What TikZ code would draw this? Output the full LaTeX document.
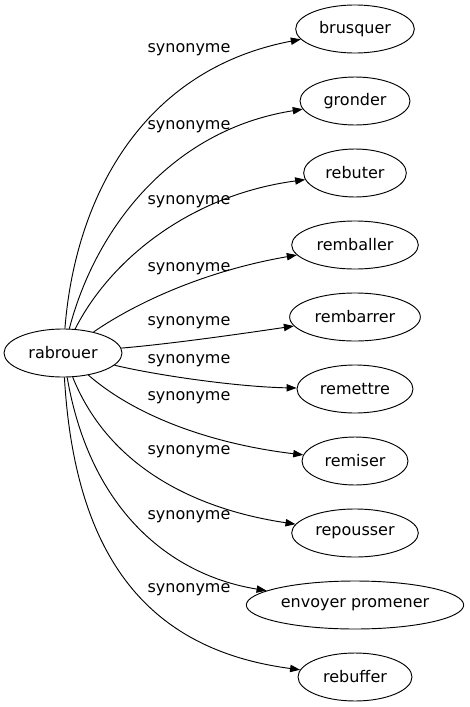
\documentclass[tikz,border=0pt]{standalone}
\usepackage{fontspec}
\setmainfont{DejaVu Sans}
\usetikzlibrary{shapes.geometric,arrows.meta}
\tikzset{
	word/.style={draw, ellipse, minimum height=36pt, inner sep=1pt, font=\fontsize{12}{14}\selectfont},
	syn/.style={inner sep=0pt, font=\fontsize{12}{14}\selectfont},
	rel/.style={-{Triangle[length=7.5pt,width=5.5pt]}}
}
\begin{document}
\begin{tikzpicture}[x=0.75pt,y=-0.75pt,line width=0.7pt]
		\useasboundingbox (0,0) rectangle (470,707);
		\node [word, minimum width=88.5pt] (rabrouer) at (63,353) {rabrouer};
		\node [word, minimum width=89pt] (brusquer) at (355,29) {brusquer};
		\node [word, minimum width=82.5pt] (gronder) at (355,101) {gronder};
		\node [word, minimum width=77pt] (rebuter) at (355,173) {rebuter};
		\node [word, minimum width=95pt] (remballer) at (355,245) {remballer};
		\node [word, minimum width=98pt] (rembarrer) at (355,317) {rembarrer};
		\node [word, minimum width=87pt] (remettre) at (355,389) {remettre};
		\node [word, minimum width=79.5pt] (remiser) at (355,461) {remiser};
		\node [word, minimum width=95pt] (repousser) at (355,533) {repousser};
		\node [word, minimum width=163pt] (envoyer) at (355,605) {envoyer promener};
		\node [word, minimum width=85.5pt] (rebuffer) at (355,677) {rebuffer};
%		edges
		\draw [rel] (rabrouer) .. controls (75,200) and (140,70) .. (brusquer);
		\draw [rel] (rabrouer) .. controls (95,230) and (170,130) .. (gronder);
		\draw [rel] (rabrouer) .. controls (110,260) and (190,195) .. (rebuter);
		\draw [rel] (rabrouer) .. controls (140,300) and (210,270) .. (remballer);
		\draw [rel] (rabrouer) .. controls (170,344) and (240,334) .. (rembarrer);
		\draw [rel] (rabrouer) .. controls (160,376) and (240,387) .. (remettre);
		\draw [rel] (rabrouer) .. controls (140,420) and (220,445) .. (remiser);
		\draw [rel] (rabrouer) .. controls (110,470) and (200,510) .. (repousser);
		\draw [rel] (rabrouer) .. controls (90,510) and (170,575) .. (envoyer);
		\draw [rel] (rabrouer) .. controls (75,560) and (150,650) .. (rebuffer);
%		labels
		\node [syn] (syn1) at (189,50) {synonyme};
		\node [syn] (syn2) at (189,127) {synonyme};
		\node [syn] (syn3) at (189,202) {synonyme};
		\node [syn] (syn4) at (189,269) {synonyme};
		\node [syn] (syn5) at (189,323) {synonyme};
		\node [syn] (syn6) at (189,361) {synonyme};
		\node [syn] (syn7) at (189,398) {synonyme};
		\node [syn] (syn8) at (189,452) {synonyme};
		\node [syn] (syn9) at (189,517) {synonyme};
		\node [syn] (syn10) at (189,590) {synonyme};
	\end{tikzpicture}
\end{document}
